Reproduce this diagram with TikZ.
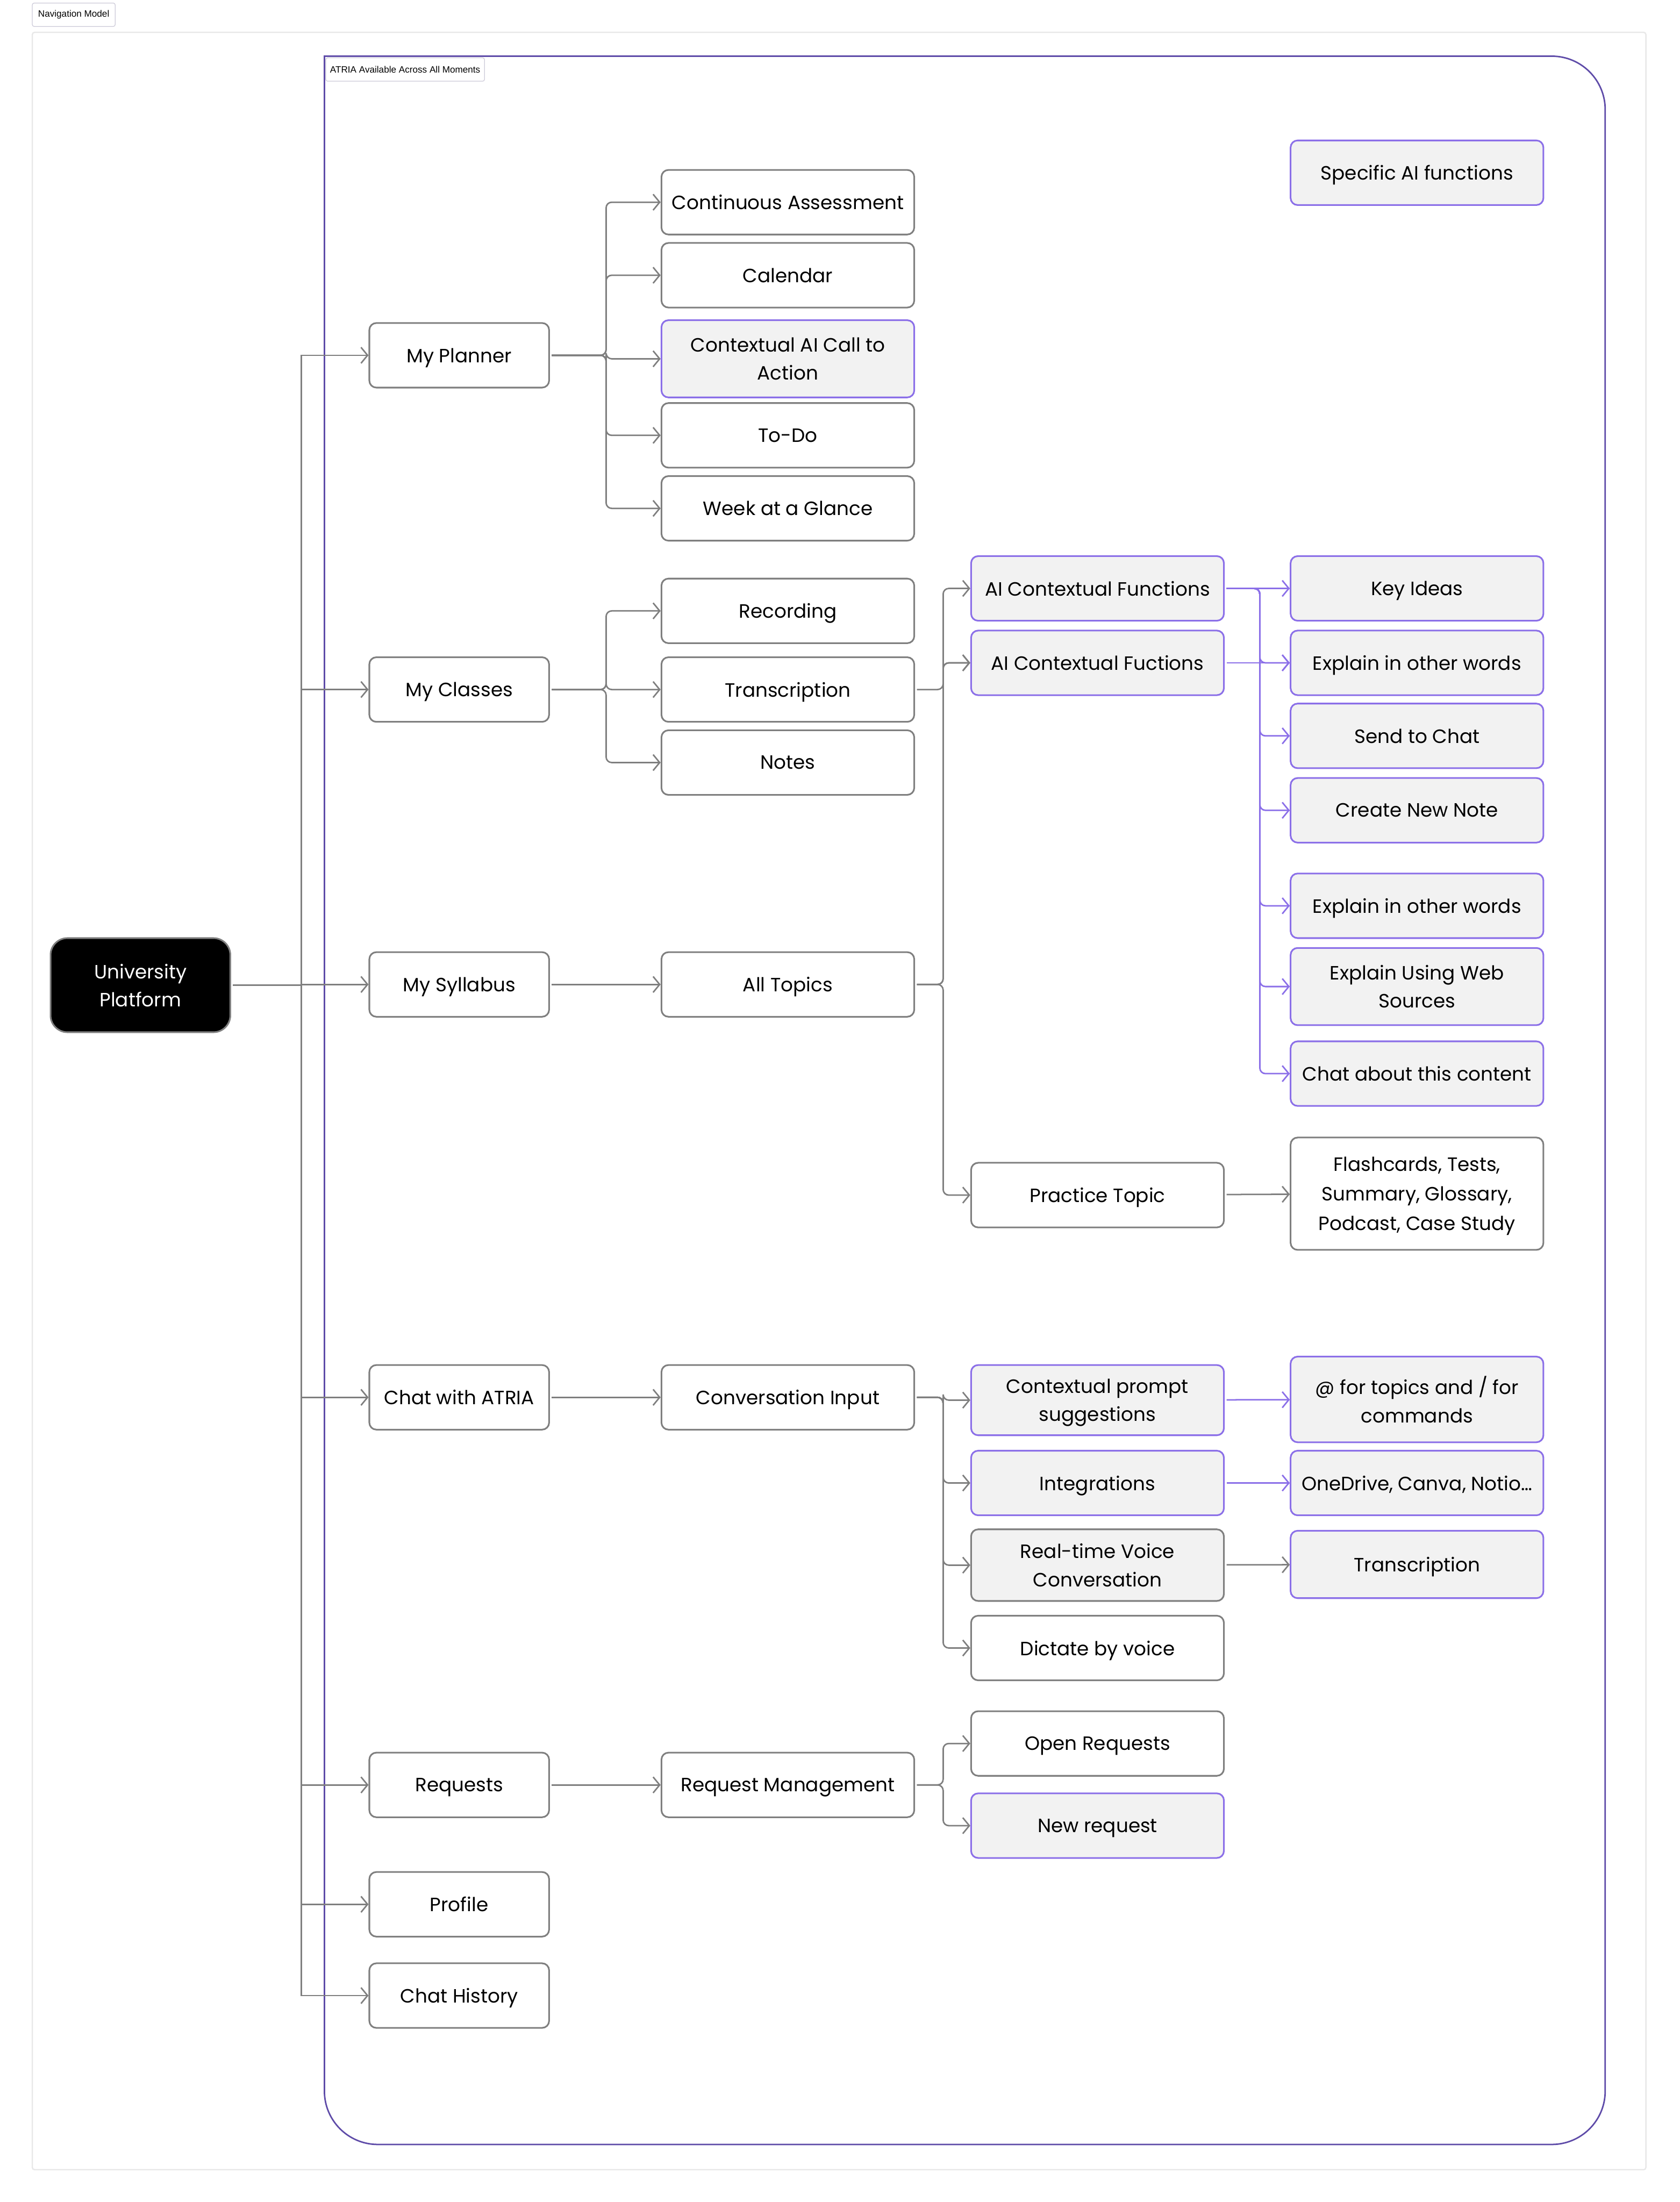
\documentclass[tikz,border=0pt]{standalone}
\usepackage{fontspec}
\setmainfont{Poppins}
\newfontfamily\tagfont{Liberation Sans}
\usetikzlibrary{arrows.meta}

\definecolor{linegrey}{HTML}{7F7F7F}
\definecolor{boxgrey}{HTML}{F2F2F2}
\definecolor{aipurple}{HTML}{8B6FE8}
\definecolor{framepurple}{HTML}{5E4BA8}
\definecolor{edgegrey}{HTML}{E8E8E8}
\definecolor{tagborder}{HTML}{CCCAD8}

\begin{document}
\begin{tikzpicture}[x=0.03cm, y=-0.03cm,
    every node/.style={font=\fontsize{11.7}{17}\selectfont, align=center, inner sep=0pt},
    navbox/.style={draw=linegrey, line width=1pt, rounded corners=1.5mm, minimum height=1.38cm, fill=white, text depth=0pt},
    levelone/.style={navbox, minimum width=3.84cm},
    leveltwo/.style={navbox, minimum width=5.4cm},
    aibox/.style={leveltwo, draw=aipurple, fill=boxgrey},
    root/.style={navbox, fill=black, text=white, minimum width=3.84cm, minimum height=2.01cm, rounded corners=3.6mm},
    tag/.style={draw=tagborder, line width=0.4pt, rounded corners=0.4mm, fill=white, font=\tagfont\fontsize{5.6}{6.5}\selectfont},
    link/.style={draw=linegrey, line width=0.9pt, rounded corners=1.2mm, shorten <=0.4mm, -{Straight Barb[length=1.4mm,width=3.4mm]}},
    ailink/.style={link, draw=aipurple}]

    \useasboundingbox (0,0) rectangle (1196,1568);

    % Marcs
    \draw[edgegrey, line width=0.8pt, rounded corners=0.5mm] (23,23) rectangle (1172,1545);
    \draw[framepurple, line width=0.9pt, rounded corners=1.14cm] (231,100) -- (231,1527) -- (1143,1527) -- (1143,40) -- (300,40);
    \draw[framepurple, line width=0.9pt] (300,40) -- (231,40) -- (231,100);

    % Etiquetes
    \node[tag, minimum width=1.77cm, minimum height=0.5cm] (navtitle) at (52.5,10.5) {Navigation Model};
    \node[tag, minimum width=3.39cm, minimum height=0.5cm] (atriatitle) at (288.5,49.5) {ATRIA Available Across All Moments};

    % Arrel
    \node[root] (uni) at (100,701.5) {University\\Platform};

    % Primer nivell
    \node[levelone] (planner) at (327,253) {My Planner};
    \node[levelone] (classes) at (327,491) {My Classes};
    \node[levelone] (syllabus) at (327,701) {My Syllabus};
    \node[levelone] (chat) at (327,995) {Chat with ATRIA};
    \node[levelone] (requests) at (327,1271) {Requests};
    \node[levelone] (profile) at (327,1356) {Profile};
    \node[levelone] (history) at (327,1421) {Chat History};

    % Segon nivell
    \node[leveltwo] (cassess) at (561,144) {Continuous Assessment};
    \node[leveltwo] (calendar) at (561,196) {Calendar};
    \node[aibox, minimum height=1.65cm] (aicall) at (561,255.5) {Contextual AI Call to\\Action};
    \node[leveltwo] (todo) at (561,310) {To-Do};
    \node[leveltwo] (week) at (561,362) {Week at a Glance};
    \node[leveltwo] (recording) at (561,435) {Recording};
    \node[leveltwo] (transc) at (561,491) {Transcription};
    \node[leveltwo] (notes) at (561,543) {Notes};
    \node[leveltwo] (topics) at (561,701) {All Topics};
    \node[leveltwo] (convo) at (561,995) {Conversation Input};
    \node[leveltwo] (reqmgmt) at (561,1271) {Request Management};

    % Tercer nivell
    \node[aibox] (aifuncA) at (781.5,419) {AI Contextual Functions};
    \node[aibox] (aifuncB) at (781.5,472) {AI Contextual Fuctions};
    \node[leveltwo] (practice) at (781.5,851) {Practice Topic};
    \node[aibox, minimum height=1.5cm] (prompts) at (781.5,997) {Contextual prompt\\suggestions};
    \node[aibox] (integr) at (781.5,1056) {Integrations};
    \node[leveltwo, fill=boxgrey, minimum height=1.53cm] (voice) at (781.5,1114.5) {Real-time Voice\\Conversation};
    \node[leveltwo] (dictate) at (781.5,1173.5) {Dictate by voice};
    \node[leveltwo] (openreq) at (781.5,1241.5) {Open Requests};
    \node[aibox] (newreq) at (781.5,1300) {New request};

    % Quart nivell
    \node[aibox] (specific) at (1009,123) {Specific AI functions};
    \node[aibox] (keyideas) at (1009,419) {Key Ideas};
    \node[aibox] (explainA) at (1009,472) {Explain in other words};
    \node[aibox] (sendchat) at (1009,524) {Send to Chat};
    \node[aibox] (newnote) at (1009,577) {Create New Note};
    \node[aibox] (explainB) at (1009,645) {Explain in other words};
    \node[aibox, minimum height=1.65cm] (websrc) at (1009,702.5) {Explain Using Web\\Sources};
    \node[aibox] (chatabout) at (1009,764.5) {Chat about this content};
    \node[leveltwo, minimum height=2.4cm, font=\fontsize{11.7}{18}\selectfont] (studyset) at (1009,850) {Flashcards, Tests,\\Summary, Glossary,\\Podcast, Case Study};
    \node[aibox, minimum height=1.83cm] (mentions) at (1009,996.5) {@ for topics and / for\\commands};
    \node[aibox] (apps) at (1009,1056) {OneDrive, Canva, Notio\ldots};
    \node[aibox, minimum height=1.44cm] (voicetxt) at (1009,1114) {Transcription};

    % Connexions des de l'arrel
    \foreach \n in {planner,classes,syllabus,chat,requests,profile,history}
        \draw[link, sharp corners] (uni.east) -- ++(50,0) |- (\n.west);

    % Connexions del segon nivell
    \foreach \n in {cassess,calendar,aicall,todo,week}
        \draw[link] (planner.east) -- ++(40,0) |- (\n.west);
    \foreach \n in {recording,transc,notes}
        \draw[link] (classes.east) -- ++(40,0) |- (\n.west);
    \draw[link] (syllabus) -- (topics);
    \draw[link] (chat) -- (convo);
    \draw[link] (requests) -- (reqmgmt);

    % Connexions del tercer nivell
    \foreach \n in {aifuncA,aifuncB,practice}
        \draw[link] (topics.east) -- ++(20,0) |- (\n.west);
    \draw[link] (transc.east) -- ++(20,0) |- (aifuncB.west);
    \foreach \n in {prompts,integr,voice,dictate}
        \draw[link] (convo.east) -- ++(20,0) |- (\n.west);
    \foreach \n in {openreq,newreq}
        \draw[link] (reqmgmt.east) -- ++(20,0) |- (\n.west);

    % Connexions del quart nivell
    \draw[ailink] (aifuncA) -- (keyideas);
    \foreach \n in {explainA,sendchat,newnote,explainB,websrc,chatabout}
        \draw[ailink] (aifuncA.east) -- ++(25,0) |- (\n.west);
    \draw[ailink] (aifuncB.east) -- (explainA.west);
    \draw[link] (practice) -- (studyset);
    \draw[ailink] (prompts) -- (mentions);
    \draw[ailink] (integr) -- (apps);
    \draw[link] (voice) -- (voicetxt);
\end{tikzpicture}
\end{document}
